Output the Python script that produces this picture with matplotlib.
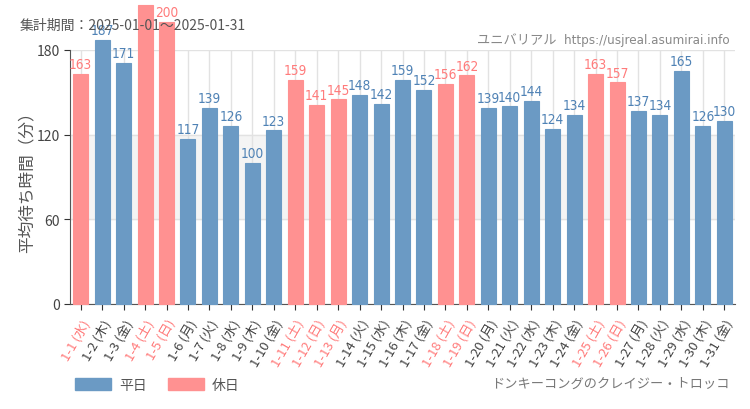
import matplotlib
matplotlib.use('Agg')
import matplotlib.pyplot as plt
from matplotlib.patches import Patch
from matplotlib import font_manager

plt.rcParams['font.family'] = ['Noto Sans CJK JP', 'DejaVu Sans']

days = ['1-1', '1-2', '1-3', '1-4', '1-5', '1-6', '1-7', '1-8', '1-9', '1-10',
        '1-11', '1-12', '1-13', '1-14', '1-15', '1-16', '1-17', '1-18', '1-19', '1-20',
        '1-21', '1-22', '1-23', '1-24', '1-25', '1-26', '1-27', '1-28', '1-29', '1-30', '1-31']
weekdays = ['水', '木', '金', '土', '日', '月', '火', '水', '木', '金',
            '土', '日', '月', '火', '水', '木', '金', '土', '日', '月',
            '火', '水', '木', '金', '土', '日', '月', '火', '水', '木', '金']
waits = [163, 187, 171, 212, 200, 117, 139, 126, 100, 123,
         159, 141, 145, 148, 142, 159, 152, 156, 162, 139,
         140, 144, 124, 134, 163, 157, 137, 134, 165, 126, 130]
holiday = [1, 0, 0, 1, 1, 0, 0, 0, 0, 0,
           1, 1, 1, 0, 0, 0, 0, 1, 1, 0,
           0, 0, 0, 0, 1, 1, 0, 0, 0, 0, 0]

blue = '#6b9ac4'
pink = '#ff9191'
blue_txt = '#4f82b5'
pink_txt = '#ff7b7b'

# condensed face for the value labels, if one is installed
cond = [f.name for f in font_manager.fontManager.ttflist if 'Condensed' in f.name or f.stretch == 'condensed']
num_family = cond[0] if cond else 'Roboto'

fig = plt.figure(figsize=(7.5, 4.1), dpi=100)
ax = fig.add_axes([70/750, 1 - 305/410, 665/750, 254/410])

x = list(range(len(waits)))
cols = [pink if h else blue for h in holiday]
bars = ax.bar(x, waits, width=0.7, color=cols, edgecolor=cols, linewidth=0.8, zorder=3)
for b in bars:
    b.set_clip_on(False)

for i, v in enumerate(waits):
    ax.text(i, v + 2, str(v), ha='center', va='bottom', fontsize=9.8,
            color=pink_txt if holiday[i] else blue_txt, family=num_family,
            fontstretch='condensed', zorder=4, clip_on=False)

ax.set_xlim(-0.5, len(waits) - 0.5)
ax.set_ylim(0, 180)
ax.set_yticks([0, 60, 120, 180])
ax.axhspan(60, 120, color='#f4f4f4', zorder=0)
ax.grid(True, color='#e2e2e2', linewidth=1, zorder=1)

ax.set_xticks(x)
ax.set_xticklabels([f'{d} ({w})' for d, w in zip(days, weekdays)],
                   rotation=60, ha='right', rotation_mode='anchor', fontsize=9.5)
for lbl, h in zip(ax.get_xticklabels(), holiday):
    lbl.set_color(pink_txt if h else '#444444')
ax.tick_params(axis='x', length=4, color='#333333', pad=5)
ax.tick_params(axis='y', length=4, color='#333333', labelsize=10, labelcolor='#444444')

for s in ['top', 'right']:
    ax.spines[s].set_visible(False)
for s in ['left', 'bottom']:
    ax.spines[s].set_color('#555555')

ax.set_ylabel('平均待ち時間（分）', fontsize=12, color='#555555')
ax.yaxis.set_label_coords(-0.052, 0.5)

fig.text(20/750, 1 - 26/410, '集計期間：2025-01-01～2025-01-31', fontsize=10,
         color='#555555', va='center', ha='left')
fig.text(730/750, 1 - 40/410, 'ユニバリアル  https://usjreal.asumirai.info', fontsize=9.5,
         color='#888888', va='center', ha='right',
         family=[num_family, 'Noto Sans CJK JP'], fontstretch='condensed')
fig.text(730/750, 1 - 384/410, 'ドンキーコングのクレイジー・トロッコ', fontsize=9.5,
         color='#777777', va='center', ha='right')

handles = [Patch(color=blue, label='平日'), Patch(color=pink, label='休日')]
fig.legend(handles=handles, loc='center left', bbox_to_anchor=(62/750, 1 - 386/410),
           ncol=2, frameon=False, fontsize=10, handlelength=2.6, handleheight=1.0,
           columnspacing=1.5, handletextpad=0.6, labelcolor='#555555')

fig.savefig('out.png', dpi=100)
